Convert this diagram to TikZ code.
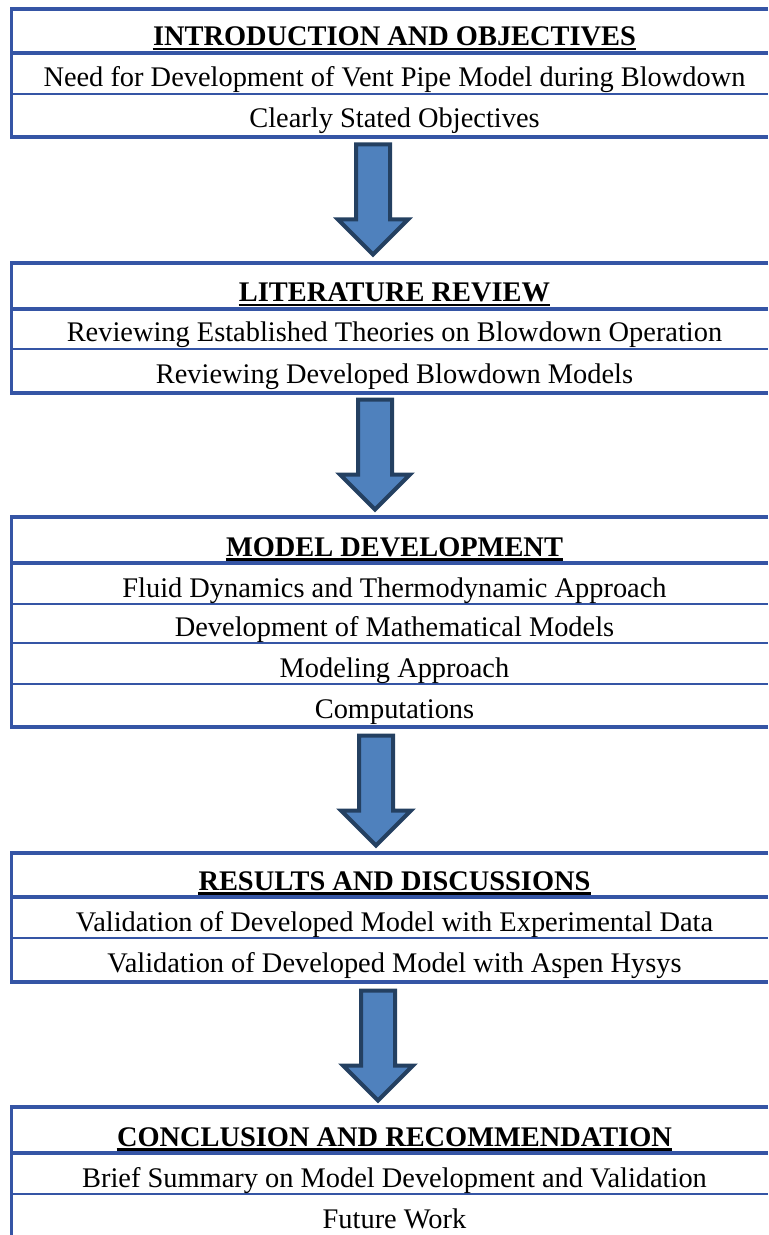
\documentclass[tikz,border=0pt]{standalone}
\usepackage{fontspec}
\setmainfont{Liberation Serif}
\usetikzlibrary{shapes.arrows}
\definecolor{lineblue}{RGB}{53,85,165}
\definecolor{arrowfill}{RGB}{79,129,189}
\definecolor{arrowline}{RGB}{36,64,97}

\begin{document}
\begin{tikzpicture}[x=0.5pt,y=-0.5pt,
    frame/.style={draw=lineblue,line width=1.6pt},
    sep/.style={draw=lineblue,line width=0.8pt},
    hnode/.style={font=\fontsize{14.2}{17}\selectfont\bfseries,inner sep=0pt,anchor=base},
    tnode/.style={font=\fontsize{14.2}{17}\selectfont,inner sep=0pt,anchor=base},
    uline/.style={line width=1.3pt},
    barrow/.style={single arrow,draw=arrowline,fill=arrowfill,line width=2pt,rotate=-90,
        inner xsep=0pt,inner ysep=7.5pt,minimum height=55pt,single arrow head extend=9pt}]
    \useasboundingbox (0,0) rectangle (768,1235);

    % introduction
    \draw[frame] (768,9) -- (11.5,9) -- (11.5,137) -- (768,137);
    \draw[frame] (11.5,53) -- (768,53);
    \draw[sep] (13,94) -- (768,94);
    \node[hnode] (h1) at (394.5,46) {INTRODUCTION AND OBJECTIVES};
    \node[tnode] (r11) at (394.5,87) {Need for Development of Vent Pipe Model during Blowdown};
    \node[tnode] (r12) at (394.5,128) {Clearly Stated Objectives};

    % literature
    \draw[frame] (768,263) -- (11.5,263) -- (11.5,393) -- (768,393);
    \draw[frame] (11.5,309) -- (768,309);
    \draw[sep] (13,349) -- (768,349);
    \node[hnode] (h2) at (394.5,302) {LITERATURE REVIEW};
    \node[tnode] (r21) at (394.5,342) {Reviewing Established Theories on Blowdown Operation};
    \node[tnode] (r22) at (394.5,383) {Reviewing Developed Blowdown Models};

    % model
    \draw[frame] (768,517) -- (11.5,517) -- (11.5,727) -- (768,727);
    \draw[frame] (11.5,563) -- (768,563);
    \draw[sep] (13,604) -- (768,604);
    \draw[sep] (13,643) -- (768,643);
    \draw[sep] (13,684) -- (768,684);
    \node[hnode] (h3) at (394.5,556) {MODEL DEVELOPMENT};
    \node[tnode] (r31) at (394.5,597) {Fluid Dynamics and Thermodynamic Approach};
    \node[tnode] (r32) at (394.5,636) {Development of Mathematical Models};
    \node[tnode] (r33) at (394.5,677) {Modeling Approach};
    \node[tnode] (r34) at (394.5,718) {Computations};

    % results
    \draw[frame] (768,853) -- (11.5,853) -- (11.5,982) -- (768,982);
    \draw[frame] (11.5,897) -- (768,897);
    \draw[sep] (13,938) -- (768,938);
    \node[hnode] (h4) at (394.5,890) {RESULTS AND DISCUSSIONS};
    \node[tnode] (r41) at (394.5,931) {Validation of Developed Model with Experimental Data};
    \node[tnode] (r42) at (394.5,972) {Validation of Developed Model with Aspen Hysys};

    % conclusion
    \draw[frame] (768,1107) -- (11.5,1107) -- (11.5,1235);
    \draw[frame] (11.5,1153) -- (768,1153);
    \draw[sep] (13,1194) -- (768,1194);
    \node[hnode] (h5) at (394.5,1146) {CONCLUSION AND RECOMMENDATION};
    \node[tnode] (r51) at (394.5,1187) {Brief Summary on Model Development and Validation};
    \node[tnode] (r52) at (394.5,1228) {Future Work};

    \foreach \h in {h1,h2,h3,h4,h5}
        \draw[uline] ([yshift=-1.6pt]\h.base west) -- ([yshift=-1.6pt]\h.base east);

    \node[barrow] (a1) at (373,191) {};
    \node[barrow] (a2) at (375,446) {};
    \node[barrow] (a3) at (376,782) {};
    \node[barrow] (a4) at (378,1037) {};
\end{tikzpicture}
\end{document}
